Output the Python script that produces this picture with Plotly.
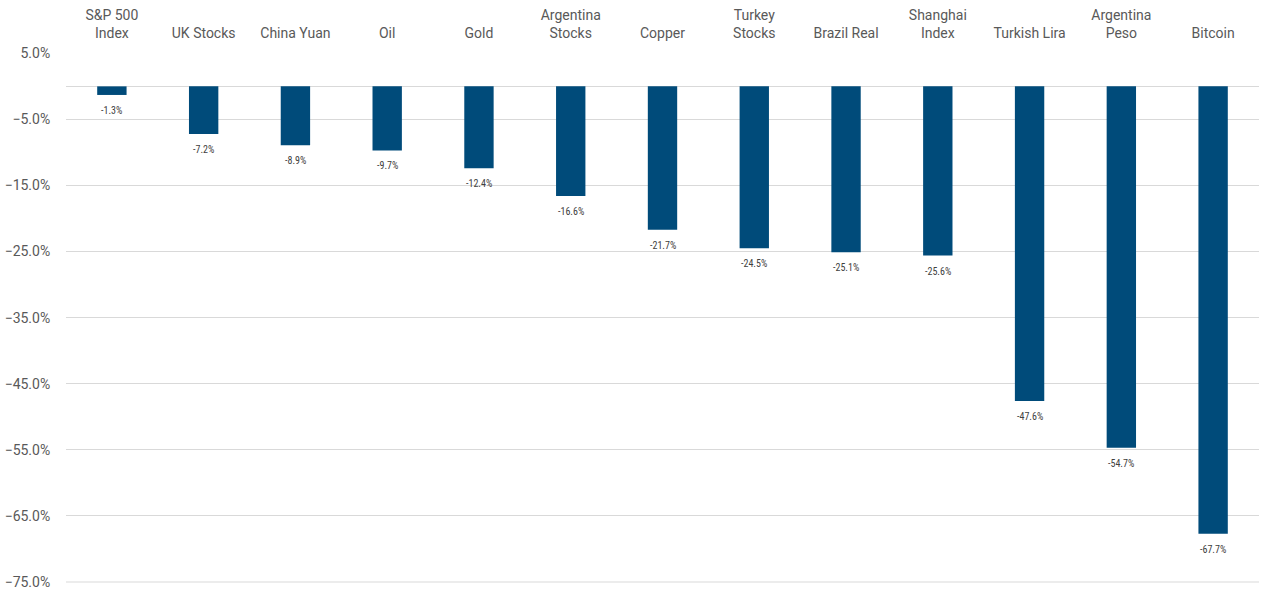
import plotly.graph_objects as go

categories = ["S&P 500<br>Index", "UK Stocks", "China Yuan", "Oil", "Gold", "Argentina<br>Stocks",
              "Copper", "Turkey<br>Stocks", "Brazil Real", "Shanghai<br>Index", "Turkish Lira",
              "Argentina<br>Peso", "Bitcoin"]
values = [-1.3, -7.2, -8.9, -9.7, -12.4, -16.6, -21.7, -24.5, -25.1, -25.6, -47.6, -54.7, -67.7]
labels = [f"{v:.1f}%" for v in values]
y_min, y_max = -75, 5

fig = go.Figure(go.Bar(
    x=categories, y=values,
    marker=dict(color="#004b7a", line=dict(width=0)),
    cliponaxis=False,
))

for c, v, t in zip(categories, values, labels):
    fig.add_annotation(x=c, y=v, text=t, showarrow=False, yanchor="top", yshift=-8,
                       font=dict(size=10, color="#404040", family="Roboto Condensed, Roboto, Arial"))

fig.add_shape(type="line", xref="paper", x0=0, x1=1, yref="y", y0=y_min, y1=y_min,
              line=dict(color="#d9d9d9", width=1), layer="below")

fig.update_layout(
    width=1262, height=592,
    margin=dict(l=66, r=3, t=53, b=9),
    plot_bgcolor="white", paper_bgcolor="white",
    bargap=0.68,
    showlegend=False,
    font=dict(family="Roboto, Arial", color="#595959", size=14),
    xaxis=dict(side="top", showgrid=False, showline=False, ticks="outside", ticklen=8,
               tickcolor="rgba(0,0,0,0)", tickfont=dict(size=14, color="#595959")),
    yaxis=dict(range=[y_min - 0.15, y_max + 0.05], tick0=5, dtick=10, tickformat=".1f", ticksuffix="%",
               showgrid=True, gridcolor="#d9d9d9", gridwidth=1,
               zeroline=True, zerolinecolor="#d9d9d9", zerolinewidth=1,
               showline=False, ticks="outside", ticklen=12, tickcolor="rgba(0,0,0,0)",
               tickfont=dict(size=14, color="#595959")),
)

fig.write_html("out.html")
